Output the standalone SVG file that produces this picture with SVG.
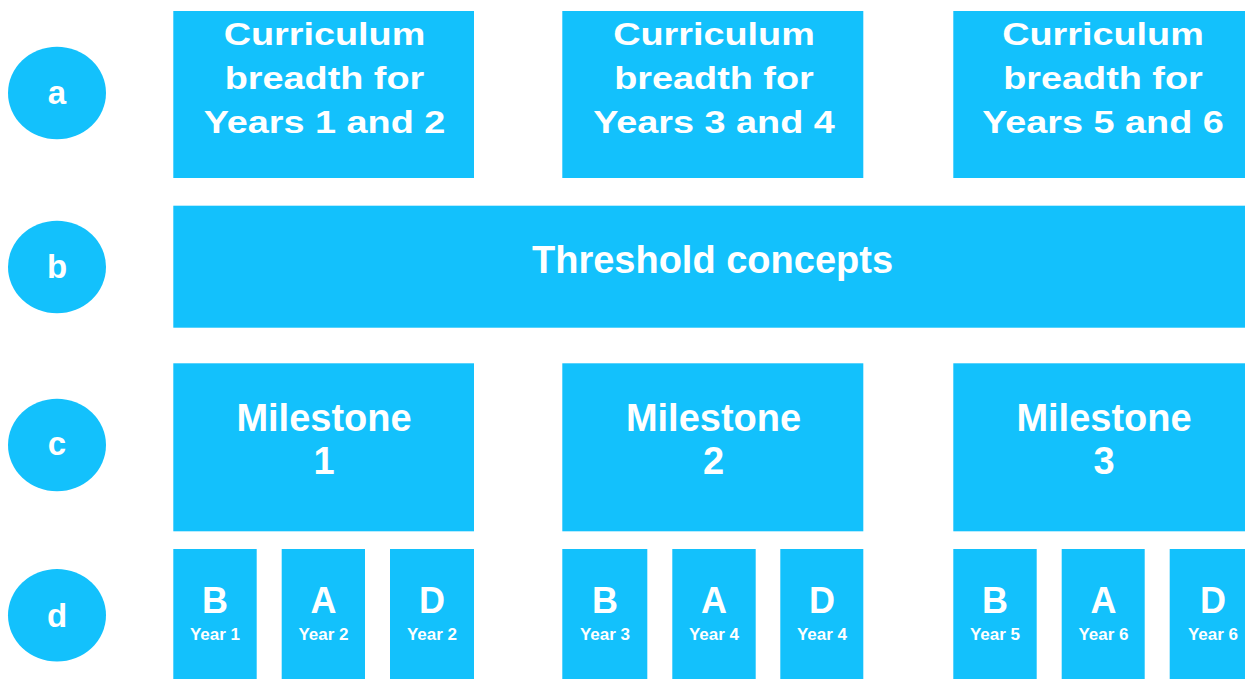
<svg xmlns="http://www.w3.org/2000/svg" width="1245" height="679" viewBox="0 0 1245 679">
<style>
.box{fill:#13C1FC}
.t{fill:#fff;font-family:"Liberation Sans",Arial,sans-serif;font-weight:bold;text-anchor:middle}
.top{font-size:31px}
.big{font-size:38px}
.lbl{font-size:33px}
.let{font-size:36px}
.yr{font-size:17px}
</style>
<rect width="1245" height="679" fill="#fff"/>
<g id="connectors"></g>
<g id="circle-a"><ellipse class="box" cx="57" cy="93" rx="49" ry="46.3"/><text class="t lbl" x="57" y="103.5">a</text></g>
<g id="circle-b"><ellipse class="box" cx="57" cy="267" rx="49" ry="46.3"/><text class="t lbl" x="57" y="278.3">b</text></g>
<g id="circle-c"><ellipse class="box" cx="57" cy="445" rx="49" ry="46.3"/><text class="t lbl" x="57" y="455">c</text></g>
<g id="circle-d"><ellipse class="box" cx="57" cy="615.3" rx="49" ry="46.3"/><text class="t lbl" x="57" y="626.6">d</text></g>

<g id="breadth-1-2"><rect class="box" x="173.3" y="11" width="300.7" height="167"/>
<g transform="translate(324.5 0) scale(1.22 1)"><text class="t top" x="0" y="45.5">Curriculum</text><text class="t top" x="0" y="89.5">breadth for</text><text class="t top" x="0" y="133.5">Years 1 and 2</text></g></g>
<g id="breadth-3-4"><rect class="box" x="562.3" y="11" width="301" height="167"/>
<g transform="translate(714 0) scale(1.22 1)"><text class="t top" x="0" y="45.5">Curriculum</text><text class="t top" x="0" y="89.5">breadth for</text><text class="t top" x="0" y="133.5">Years 3 and 4</text></g></g>
<g id="breadth-5-6"><rect class="box" x="953.3" y="11" width="301" height="167"/>
<g transform="translate(1103 0) scale(1.22 1)"><text class="t top" x="0" y="45.5">Curriculum</text><text class="t top" x="0" y="89.5">breadth for</text><text class="t top" x="0" y="133.5">Years 5 and 6</text></g></g>

<g id="threshold"><rect class="box" x="173.3" y="205.7" width="1081" height="122"/><text class="t big" x="712.5" y="272.7">Threshold concepts</text></g>

<g id="milestone-1"><rect class="box" x="173.3" y="363.3" width="300.7" height="168"/><text class="t big" x="324" y="430.7">Milestone</text><text class="t big" x="324" y="474.3">1</text></g>
<g id="milestone-2"><rect class="box" x="562.3" y="363.3" width="301" height="168"/><text class="t big" x="713.5" y="430.7">Milestone</text><text class="t big" x="713.5" y="474.3">2</text></g>
<g id="milestone-3"><rect class="box" x="953.3" y="363.3" width="301" height="168"/><text class="t big" x="1104" y="430.7">Milestone</text><text class="t big" x="1104" y="474.3">3</text></g>

<g id="y1-b"><rect class="box" x="173.3" y="549" width="83.4" height="140"/><text class="t let" x="215" y="612.7">B</text><text class="t yr" x="215" y="640">Year 1</text></g>
<g id="y2-a"><rect class="box" x="281.7" y="549" width="83.3" height="140"/><text class="t let" x="323.5" y="612.7">A</text><text class="t yr" x="323.5" y="640">Year 2</text></g>
<g id="y2-d"><rect class="box" x="390" y="549" width="84" height="140"/><text class="t let" x="432" y="612.7">D</text><text class="t yr" x="432" y="640">Year 2</text></g>

<g id="y3-b"><rect class="box" x="562.3" y="549" width="85" height="140"/><text class="t let" x="605" y="612.7">B</text><text class="t yr" x="605" y="640">Year 3</text></g>
<g id="y4-a"><rect class="box" x="672.3" y="549" width="83.4" height="140"/><text class="t let" x="714" y="612.7">A</text><text class="t yr" x="714" y="640">Year 4</text></g>
<g id="y4-d"><rect class="box" x="780.3" y="549" width="83" height="140"/><text class="t let" x="822" y="612.7">D</text><text class="t yr" x="822" y="640">Year 4</text></g>

<g id="y5-b"><rect class="box" x="953.3" y="549" width="83.4" height="140"/><text class="t let" x="995" y="612.7">B</text><text class="t yr" x="995" y="640">Year 5</text></g>
<g id="y6-a"><rect class="box" x="1061.7" y="549" width="83" height="140"/><text class="t let" x="1103.5" y="612.7">A</text><text class="t yr" x="1103.5" y="640">Year 6</text></g>
<g id="y6-d"><rect class="box" x="1169.7" y="549" width="84" height="140"/><text class="t let" x="1213" y="612.7">D</text><text class="t yr" x="1213" y="640">Year 6</text></g>
</svg>
